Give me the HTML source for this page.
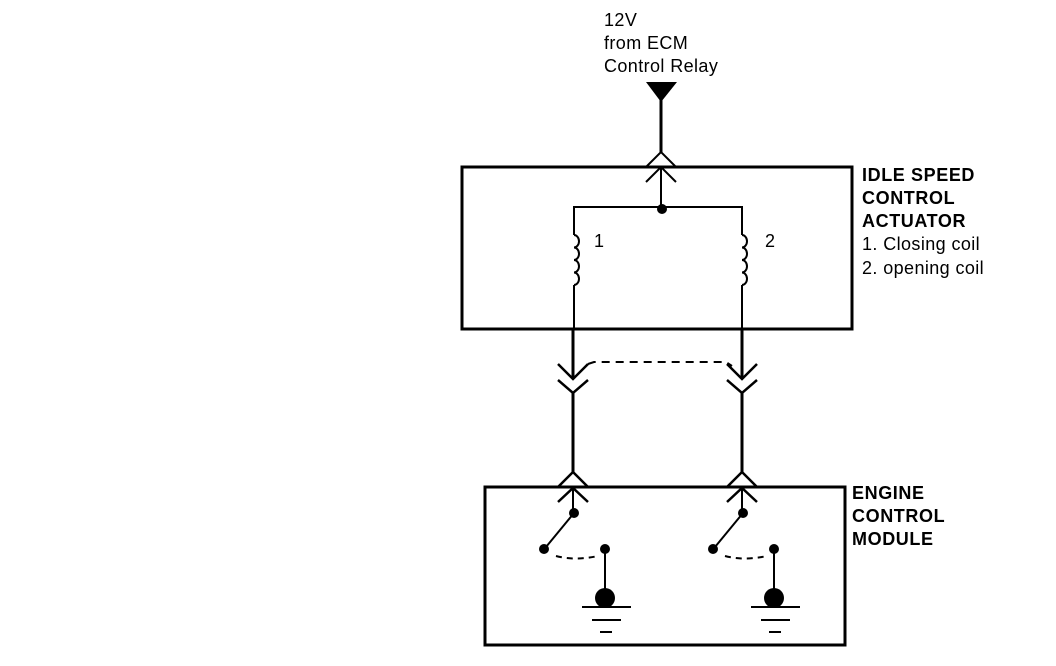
<!DOCTYPE html>
<html><head><style>
html,body{margin:0;padding:0;background:#fff;}
svg{display:block}
text{font-family:"Liberation Sans",Arial,sans-serif;fill:#000}
.b{font-weight:bold;font-size:18px;letter-spacing:0.6px}
.n{font-size:18px;letter-spacing:0.4px}
</style></head><body>
<svg width="1056" height="666" viewBox="0 0 1056 666" xmlns="http://www.w3.org/2000/svg">
<g stroke="#000" fill="none" stroke-linecap="butt">
<rect x="462" y="167" width="390" height="162" stroke-width="3"/>
<rect x="485" y="487" width="360" height="158" stroke-width="3"/>
<polygon points="646,82 677,82 661,102" fill="#000" stroke="none"/>
<line x1="661" y1="98" x2="661" y2="152" stroke-width="3"/>
<polyline points="646,167 661,152 676,167" stroke-width="2"/>
<polyline points="646,182 661,167 676,182" stroke-width="2"/>
<line x1="661" y1="167" x2="661" y2="209" stroke-width="2"/>
<polyline points="574,235 574,207 742,207 742,235" stroke-width="2"/>
<circle cx="662" cy="209" r="5" fill="#000" stroke="none"/>
<path d="M574,235 a5,6.25 0 0 1 0,12.5 a5,6.25 0 0 1 0,12.5 a5,6.25 0 0 1 0,12.5 a5,6.25 0 0 1 0,12.5" stroke-width="2"/>
<path d="M742,235 a5,6.25 0 0 1 0,12.5 a5,6.25 0 0 1 0,12.5 a5,6.25 0 0 1 0,12.5 a5,6.25 0 0 1 0,12.5" stroke-width="2"/>
<line x1="574" y1="285" x2="574" y2="329" stroke-width="2"/>
<line x1="742" y1="285" x2="742" y2="329" stroke-width="2"/>
<line x1="573" y1="329" x2="573" y2="379" stroke-width="3"/>
<line x1="742" y1="329" x2="742" y2="379" stroke-width="3"/>
<polyline points="558,364 573,379 588,364" stroke-width="2.5"/>
<polyline points="558,380 573,393 588,380" stroke-width="2.5"/>
<polyline points="727,364 742,379 757,364" stroke-width="2.5"/>
<polyline points="727,380 742,393 757,380" stroke-width="2.5"/>
<path d="M588,364 L594,362 L726,362 L732,366" stroke-width="2" stroke-dasharray="8,6"/>
<line x1="573" y1="393" x2="573" y2="472" stroke-width="3"/>
<line x1="742" y1="393" x2="742" y2="472" stroke-width="3"/>
<polyline points="558,487 573,472 588,487" stroke-width="2.5"/>
<polyline points="558,502 573,488 588,502" stroke-width="2.5"/>
<polyline points="727,487 742,472 757,487" stroke-width="2.5"/>
<polyline points="727,502 742,488 757,502" stroke-width="2.5"/>
<line x1="573" y1="488" x2="573" y2="512" stroke-width="2"/>
<line x1="742" y1="488" x2="742" y2="512" stroke-width="2"/>
<g id="sw">
<circle cx="574" cy="513" r="5" fill="#000" stroke="none"/>
<line x1="574" y1="513" x2="546" y2="547" stroke-width="2"/>
<circle cx="544" cy="549" r="5" fill="#000" stroke="none"/>
<path d="M556,556 Q575,561 598,556" stroke-width="2" stroke-dasharray="6,5"/>
<circle cx="605" cy="549" r="5" fill="#000" stroke="none"/>
<line x1="605" y1="549" x2="605" y2="595" stroke-width="2"/>
<circle cx="605" cy="598" r="10" fill="#000" stroke="none"/>
<line x1="582" y1="607" x2="631" y2="607" stroke-width="2"/>
<line x1="592" y1="620" x2="621" y2="620" stroke-width="2"/>
<line x1="600" y1="632" x2="612" y2="632" stroke-width="2"/>
</g>
<use href="#sw" transform="translate(169,0)"/>
</g>
<text class="n" x="604" y="26">12V</text>
<text class="n" x="604" y="49">from ECM</text>
<text class="n" x="604" y="72">Control Relay</text>
<text class="n" x="594" y="247">1</text>
<text class="n" x="765" y="247">2</text>
<text class="b" x="862" y="181">IDLE SPEED</text>
<text class="b" x="862" y="204">CONTROL</text>
<text class="b" x="862" y="227">ACTUATOR</text>
<text class="n" x="862" y="250">1. Closing coil</text>
<text class="n" x="862" y="274">2. opening coil</text>
<text class="b" x="852" y="499">ENGINE</text>
<text class="b" x="852" y="522">CONTROL</text>
<text class="b" x="852" y="545">MODULE</text>
</svg>
</body></html>
